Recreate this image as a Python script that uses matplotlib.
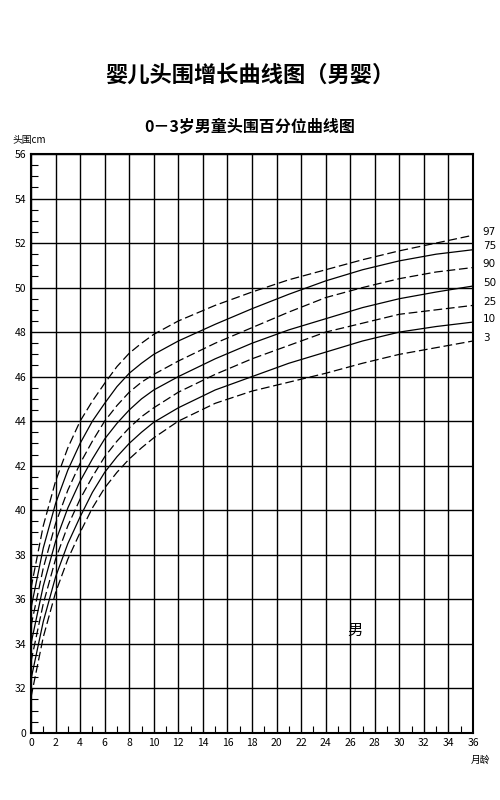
import matplotlib
matplotlib.use('Agg')
import matplotlib.pyplot as plt

plt.rcParams['font.family'] = ['Noto Sans CJK SC', 'DejaVu Sans']

ages = [0, 1, 2, 3, 4, 5, 6, 7, 8, 9, 10, 12, 15, 18, 21, 24, 27, 30, 33, 36]
p3 = [31.6, 34.3, 36.3, 37.8, 39.0, 40.1, 41.0, 41.7, 42.3, 42.8, 43.25, 44.0, 44.8, 45.35, 45.75, 46.15, 46.6, 47.0, 47.3, 47.6]
p10 = [32.4, 35.0, 37.0, 38.5, 39.7, 40.8, 41.7, 42.4, 43.0, 43.5, 43.95, 44.6, 45.4, 46.0, 46.6, 47.1, 47.6, 48.0, 48.25, 48.45]
p25 = [33.2, 35.8, 37.8, 39.3, 40.5, 41.5, 42.4, 43.1, 43.7, 44.2, 44.6, 45.3, 46.1, 46.8, 47.4, 48.0, 48.4, 48.8, 49.0, 49.2]
p50 = [34.0, 36.6, 38.6, 40.1, 41.3, 42.3, 43.2, 43.9, 44.5, 45.0, 45.4, 46.0, 46.8, 47.5, 48.1, 48.6, 49.1, 49.5, 49.8, 50.07]
p75 = [34.8, 37.4, 39.4, 40.9, 42.1, 43.1, 44.0, 44.7, 45.3, 45.75, 46.1, 46.7, 47.5, 48.2, 48.9, 49.55, 50.0, 50.4, 50.7, 50.9]
p90 = [35.6, 38.3, 40.3, 41.8, 43.0, 44.0, 44.8, 45.55, 46.15, 46.6, 47.0, 47.6, 48.35, 49.05, 49.7, 50.3, 50.8, 51.2, 51.5, 51.7]
p97 = [36.5, 39.3, 41.3, 42.8, 44.0, 44.9, 45.7, 46.45, 47.05, 47.5, 47.9, 48.5, 49.2, 49.8, 50.35, 50.8, 51.25, 51.65, 52.0, 52.35]

# top to bottom, labels as printed on the original
curves = [p97, p90, p75, p50, p25, p10, p3]
labels = ['97', '75', '90', '50', '25', '10', '3']
styles = ['--', '-', '--', '-', '--', '-', '--']

fig = plt.figure(figsize=(5, 8), dpi=100)
ax = fig.add_axes([0.062, 0.084, 0.884, 0.7235])

for c, ls, lab in zip(curves, styles, labels):
    ax.plot(ages, c, color='black', lw=0.9, ls=ls, dashes=(7, 3) if ls == '--' else (None, None))
    ax.text(36.8, c[-1] + 0.15, lab, fontsize=7.5, va='center', ha='left', family='DejaVu Sans')

ax.set_xlim(0, 36)
ax.set_ylim(30, 56)
ax.set_xticks(range(0, 37, 2))
ax.set_xticks(range(1, 36, 2), minor=True)
ax.set_yticks(range(30, 57, 2))
ax.set_yticklabels(['0'] + [str(v) for v in range(32, 57, 2)])
ax.set_yticks([v / 2 for v in range(61, 112) if v % 4 != 0], minor=True)
ax.grid(True, which='major', color='black', lw=1.0)
ax.tick_params(which='both', direction='in', labelsize=7.5)
ax.tick_params(which='major', length=0)
ax.tick_params(which='minor', length=5, width=0.8)
for s in ax.spines.values():
    s.set_linewidth(1.5)

ax.text(26.4, 34.6, '男', fontsize=11, ha='center', va='center')
fig.text(0.024, 0.825, '头围cm', fontsize=7, ha='left', va='center')
fig.text(0.96, 0.05, '月龄', fontsize=7, ha='center', va='center')
fig.text(0.5, 0.906, '婴儿头围增长曲线图（男婴）', fontsize=16, fontweight='bold', ha='center', va='center')
fig.text(0.5, 0.841, '0－3岁男童头围百分位曲线图', fontsize=11.5, fontweight='bold', ha='center', va='center')

fig.savefig('out.png', dpi=100)
